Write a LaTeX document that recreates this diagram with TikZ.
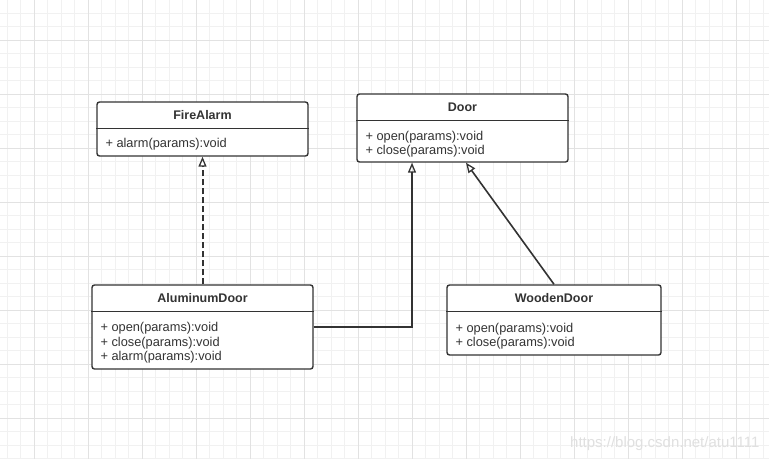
\documentclass[tikz,border=0pt]{standalone}
\usepackage{fontspec}
\setmainfont{Liberation Sans}
\usetikzlibrary{arrows.meta}
\definecolor{inkgray}{HTML}{333333}
\definecolor{gridminor}{HTML}{F1F1F1}
\definecolor{gridmajor}{HTML}{E2E2E2}

\begin{document}
\begin{tikzpicture}[x=1pt,y=-1pt,
  classbox/.style={draw=inkgray,line width=1.4pt,rounded corners=2.5pt,fill=white,inner sep=0pt},
  classtitle/.style={font=\fontsize{12.5}{14}\selectfont\bfseries,text=inkgray,anchor=base,inner sep=0pt},
  classops/.style={font=\fontsize{12.8}{14.5}\selectfont,text=inkgray,align=left,anchor=base west,inner sep=0pt},
  inherit/.style={draw=inkgray,line width=1.6pt,-{Triangle[open,length=10pt,width=8pt,line width=1.3pt]}}]
\useasboundingbox (0,0) rectangle (769,459);
\fill[white] (0,0) rectangle (769,459);
% grid paper
\foreach \x in {7,20.5,...,769} \draw[gridminor,line width=0.8pt] (\x,0) -- (\x,459);
\foreach \y in {-0.5,13,...,459} \draw[gridminor,line width=0.8pt] (0,\y) -- (769,\y);
\foreach \x in {34,88,...,769} \draw[gridmajor,line width=0.8pt] (\x,0) -- (\x,459);
\foreach \y in {40,94,...,459} \draw[gridmajor,line width=0.8pt] (0,\y) -- (769,\y);

% classes (ops anchored at the baseline of their last line)
\node[classbox,minimum width=211pt,minimum height=54pt] (firealarm) at (202.5,129) {};
\draw[inkgray,line width=1.4pt] ([yshift=-27pt]firealarm.north west) -- ([yshift=-27pt]firealarm.north east);
\node[classtitle] (firealarm-t) at ([yshift=-18.5pt]firealarm.north) {FireAlarm};
\node[classops] (firealarm-m) at ([xshift=9pt,yshift=-46pt]firealarm.north west) {+ alarm(params):void};

\node[classbox,minimum width=211pt,minimum height=68pt] (door) at (462.5,128) {};
\draw[inkgray,line width=1.4pt] ([yshift=-27pt]door.north west) -- ([yshift=-27pt]door.north east);
\node[classtitle] (door-t) at ([yshift=-18pt]door.north) {Door};
\node[classops] (door-m) at ([xshift=9pt,yshift=-61.5pt]door.north west) {+ open(params):void\\+ close(params):void};

\node[classbox,minimum width=221pt,minimum height=84pt] (aluminum) at (202.5,327) {};
\draw[inkgray,line width=1.4pt] ([yshift=-27pt]aluminum.north west) -- ([yshift=-27pt]aluminum.north east);
\node[classtitle] (aluminum-t) at ([yshift=-18pt]aluminum.north) {AluminumDoor};
\node[classops] (aluminum-m) at ([xshift=9pt,yshift=-76.5pt]aluminum.north west) {+ open(params):void\\+ close(params):void\\+ alarm(params):void};

\node[classbox,minimum width=214pt,minimum height=70pt] (wooden) at (554,320) {};
\draw[inkgray,line width=1.4pt] ([yshift=-27pt]wooden.north west) -- ([yshift=-27pt]wooden.north east);
\node[classtitle] (wooden-t) at ([yshift=-18pt]wooden.north) {WoodenDoor};
\node[classops] (wooden-m) at ([xshift=9pt,yshift=-62.5pt]wooden.north west) {+ open(params):void\\+ close(params):void};

% relations
\draw[inherit,dash pattern=on 6pt off 3pt,line width=2pt] (aluminum.north) -- (firealarm.south);
\draw[inherit] (aluminum.east) -| ([xshift=-50.5pt]door.south);
\draw[inherit] (wooden.north) -- ([xshift=3.5pt]door.south);

\node[font=\fontsize{15}{17}\selectfont,text=black!12,anchor=base east] (mark) at (763,447) {https://blog.csdn.net/atu1111};
\end{tikzpicture}
\end{document}
